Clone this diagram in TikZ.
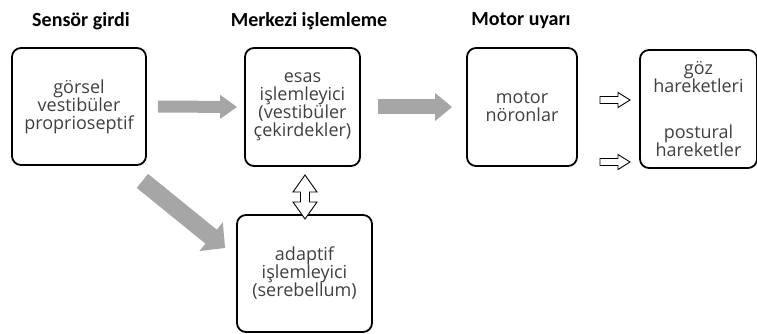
\documentclass[tikz,border=0pt]{standalone}
\usepackage{fontspec}
\setmainfont{Open Sans}
\newfontfamily\titlefont{Carlito}
\usetikzlibrary{arrows.meta}

\begin{document}
\begin{tikzpicture}[x=1pt, y=-1pt,
    box/.style={draw, line width=1.8pt, rounded corners=9pt, align=center,
        font=\fontsize{18}{18}\selectfont, text=black!75, inner sep=0pt},
    title/.style={font=\titlefont\bfseries\fontsize{20}{24}\selectfont},
    hollow/.style={draw, line width=0.9pt, fill=white}]
    \useasboundingbox (0,0) rectangle (757,334);

    % Column titles
    \node[title] (tsensor) at (81,21) {Sensör girdi};
    \node[title] (tcenter) at (309,21) {Merkezi işlemleme};
    \node[title] (tmotor) at (521,21) {Motor uyarı};

    % Boxes
    \node[box, minimum width=134pt, minimum height=117pt] (sensor) at (79,106.5)
        {görsel\\vestibüler\\proprioseptif};
    \node[box, minimum width=115pt, minimum height=118pt] (esas) at (302.5,107)
        {esas\\işlemleyici\\(vestibüler\\çekirdekler)};
    \node[box, minimum width=110pt, minimum height=118pt] (motor) at (522,107)
        {motor\\nöronlar};
    \node[box, minimum width=117pt, minimum height=118pt] (hareket) at (698.5,109)
        {göz\\hareketleri\\[28pt]postural\\hareketler};
    \node[box, minimum width=135pt, minimum height=117pt] (adaptif) at (304.5,273.5)
        {adaptif\\işlemleyici\\(serebellum)};

    % Gray flow arrows
    \draw[black!35, line width=12pt, -{Triangle[length=17pt, width=23pt]}]
        ([xshift=11pt]sensor.east) -- ([xshift=-7pt]esas.west);
    \draw[black!35, line width=15pt, -{Triangle[length=17pt, width=27pt]}]
        ([xshift=17pt]esas.east) -- ([xshift=-14pt]motor.west);
    \draw[black!35, line width=18pt, -{Triangle[length=18pt, width=36pt]}]
        ([xshift=-4.5pt, yshift=-15pt]sensor.south east) -- ([xshift=-11pt, yshift=25.5pt]adaptif.west);

    % Two-way link to the cerebellum
    \coordinate (link) at (305,197);
    \draw[hollow, shift={(link)}] (0,-22) -- (12,-5) -- (4.5,-5) -- (4.5,5) -- (12,5)
        -- (0,22) -- (-12,5) -- (-4.5,5) -- (-4.5,-5) -- (-12,-5) -- cycle;

    % Outputs
    \foreach \y/\name in {100/out1, 162/out2} {
        \coordinate (\name) at (615,\y);
        \draw[hollow, shift={(\name)}] (-15,-3.5) -- (3,-3.5) -- (3,-7.5) -- (15,0)
            -- (3,7.5) -- (3,3.5) -- (-15,3.5) -- cycle;
    }
\end{tikzpicture}
\end{document}
